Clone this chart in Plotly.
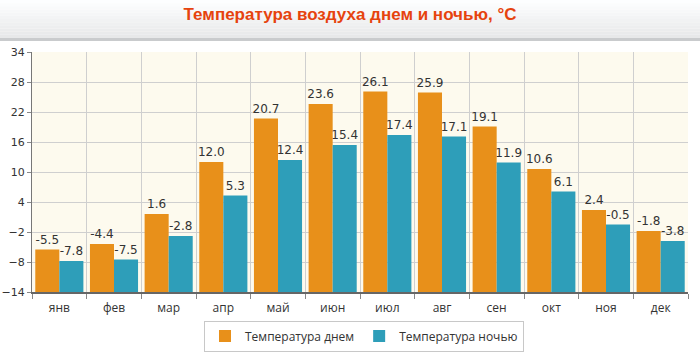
import plotly.graph_objects as go

months = ["янв", "фев", "мар", "апр", "май", "июн", "июл", "авг", "сен", "окт", "ноя", "дек"]
day_temp = [-5.5, -4.4, 1.6, 12.0, 20.7, 23.6, 26.1, 25.9, 19.1, 10.6, 2.4, -1.8]
night_temp = [-7.8, -7.5, -2.8, 5.3, 12.4, 15.4, 17.4, 17.1, 11.9, 6.1, -0.5, -3.8]
y_min, y_max, y_step = -14, 34, 6

orange = "#e8901a"
teal = "#2e9eb9"

fig = go.Figure()
fig.add_trace(go.Bar(
    x=months, y=[v - y_min for v in day_temp], base=y_min,
    name="Температура днем", marker=dict(color=orange, line=dict(width=0)),
    text=[f"{v:.1f}" for v in day_temp], textposition="outside", constraintext="none",
    textfont=dict(family="DejaVu Sans", size=12, color="#333"),
    cliponaxis=False, hoverinfo="skip",
))
fig.add_trace(go.Bar(
    x=months, y=[v - y_min for v in night_temp], base=y_min,
    name="Температура ночью", marker=dict(color=teal, line=dict(width=0)),
    text=[f"{v:.1f}" for v in night_temp], textposition="outside", constraintext="none",
    textfont=dict(family="DejaVu Sans", size=12, color="#333"),
    cliponaxis=False, hoverinfo="skip",
))

# title band gradient (paper coords: plot area 52..292 px)
def py(px):
    return (292 - px) / 240

def pxx(px):
    return (px - 32) / 656

shapes = []
n = 12
for i in range(n):
    t = i / (n - 1)
    c = int(253 - t * 22)
    shapes.append(dict(type="rect", xref="paper", yref="paper", layer="below",
                       x0=pxx(0), x1=pxx(700), y0=py(38 * (i + 1) / n), y1=py(38 * i / n),
                       fillcolor=f"rgb({c},{c+1},{c+2})", line=dict(width=0)))
shapes.append(dict(type="rect", xref="paper", yref="paper", layer="below",
                   x0=pxx(0), x1=pxx(700), y0=py(41), y1=py(38),
                   fillcolor="#c9cbcd", line=dict(width=0)))

fig.update_layout(
    width=700, height=352,
    margin=dict(l=32, r=12, t=52, b=60, autoexpand=False),
    paper_bgcolor="white",
    plot_bgcolor="#fdfaee",
    barmode="group", bargap=0.12, bargroupgap=0,
    shapes=shapes,
    title=dict(text="<b>Температура воздуха днем и ночью, °C</b>",
               x=0.5, xanchor="center", y=1 - 14 / 352, yanchor="middle",
               font=dict(family="Liberation Sans Narrow, Liberation Sans, Arial", size=17, color="#e6430e")),
    legend=dict(orientation="h", x=pxx(364), xanchor="center", y=py(336), yanchor="middle",
                bordercolor="#c8c8c8", borderwidth=1, bgcolor="white",
                font=dict(family="Open Sans", size=12, color="#333"),
                itemwidth=30, traceorder="normal", tracegroupgap=0),
    xaxis=dict(tickson="boundaries", ticks="outside", ticklen=5, tickcolor="#888",
               ticklabelstandoff=4,
               showgrid=True, gridcolor="#cfcfcf", gridwidth=1,
               showline=True, linecolor="#666", linewidth=2, mirror=False,
               tickfont=dict(family="Open Sans", size=12, color="#333")),
    yaxis=dict(range=[y_min, y_max], tick0=y_min, dtick=y_step,
               ticks="outside", ticklen=4, tickcolor="#888",
               showgrid=True, gridcolor="#cfcfcf", gridwidth=1, zeroline=False,
               showline=True, linecolor="#777", linewidth=1,
               tickfont=dict(family="DejaVu Sans", size=11, color="#333")),
)

fig.write_html("out.html")
